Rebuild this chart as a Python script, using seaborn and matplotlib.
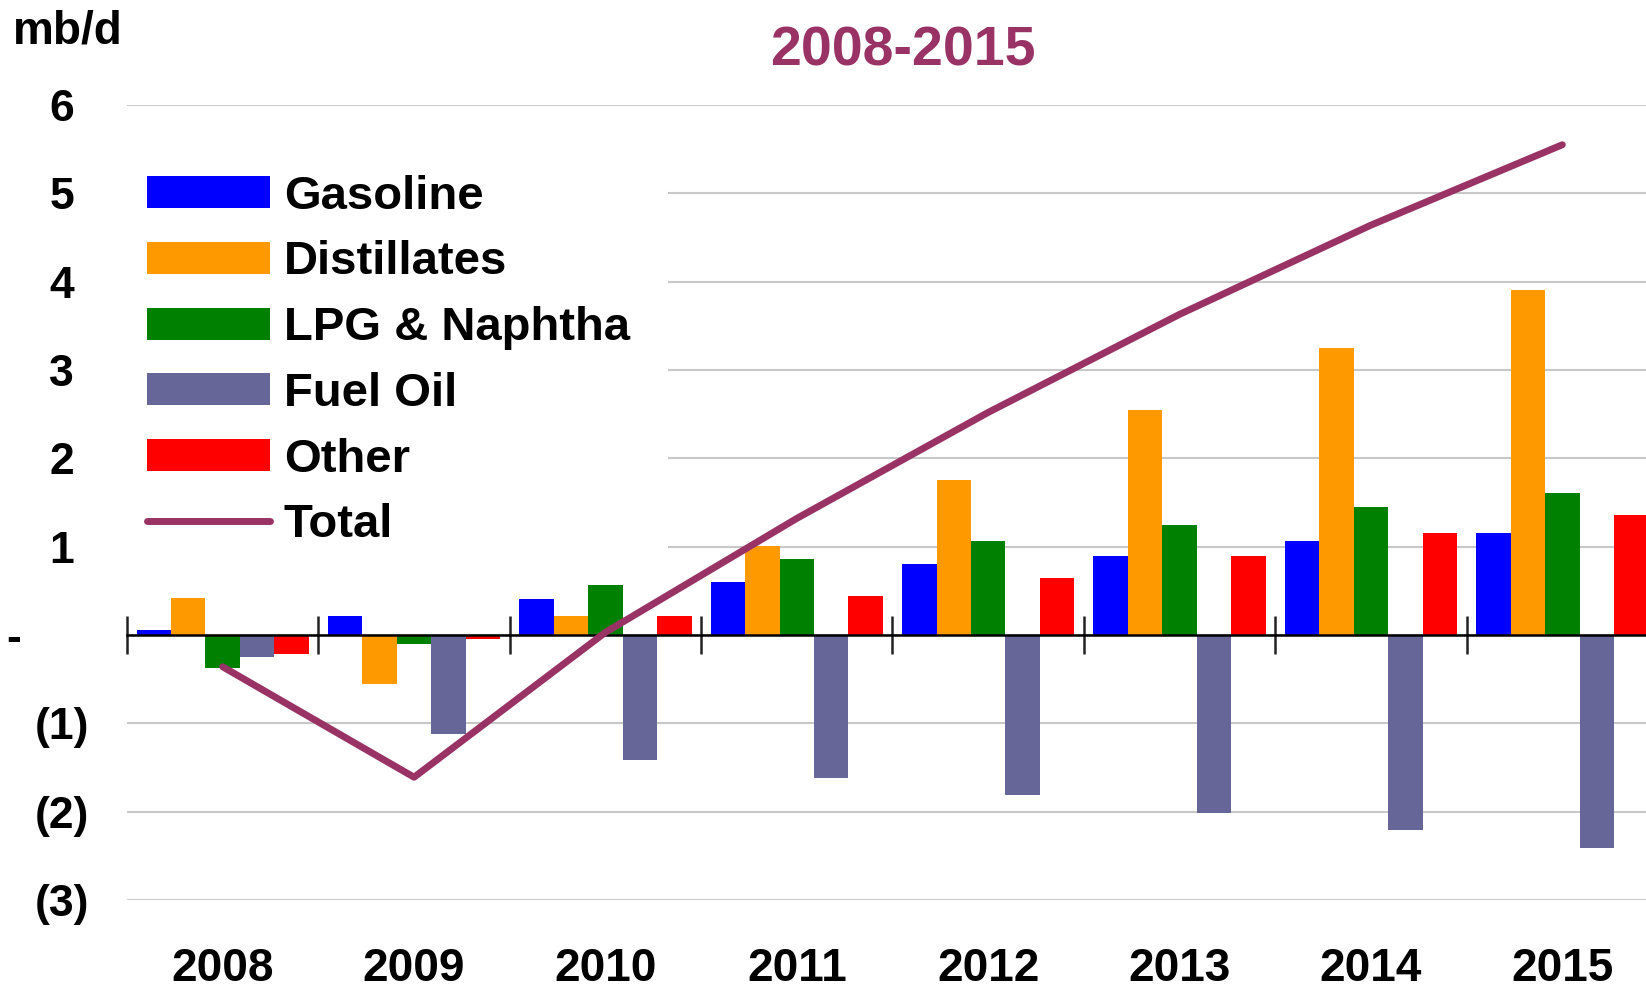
import numpy as np
import pandas as pd
import matplotlib
matplotlib.use("Agg")
import matplotlib.pyplot as plt
import seaborn as sns
from matplotlib.patches import Patch
from matplotlib.lines import Line2D

# Demand growth by product, 2008-2015 (mb/d)
years = ['2008', '2009', '2010', '2011', '2012', '2013', '2014', '2015']
products = ['Gasoline', 'Distillates', 'LPG & Naphtha', 'Fuel Oil', 'Other']
gasoline = [0.06, 0.21, 0.41, 0.60, 0.80, 0.89, 1.06, 1.16]
distillates = [0.42, -0.55, 0.21, 1.01, 1.76, 2.55, 3.25, 3.90]
lpg_naphtha = [-0.37, -0.10, 0.60, 0.86, 1.06, 1.25, 1.45, 1.61]
fuel_oil = [-0.25, -1.12, -1.41, -1.62, -1.81, -2.01, -2.21, -2.41]
other = [-0.22, -0.05, 0.21, 0.44, 0.65, 0.89, 1.15, 1.36]
total = [-0.36, -1.61, 0.03, 1.32, 2.52, 3.63, 4.64, 5.55]

ytick_vals = [-3, -2, -1, 0, 1, 2, 3, 4, 5, 6]
ytick_labels = ['(3)', '(2)', '(1)', '-', '1', '2', '3', '4', '5', '6']

colors = ['#0000FF', '#FF9900', '#008000', '#666699', '#FF0000']
total_color = '#993366'

sns.set_theme(style="white")
plt.rcParams['font.family'] = ['Liberation Sans', 'DejaVu Sans']
plt.rcParams['font.weight'] = 'bold'
plt.rcParams['text.color'] = 'black'

df = pd.concat([
    pd.DataFrame({'year': years, 'product': name, 'value': vals})
    for name, vals in zip(products, [gasoline, distillates, lpg_naphtha, fuel_oil, other])
], ignore_index=True)

W, H = 1646, 988
fig = plt.figure(figsize=(W / 100, H / 100), dpi=100)
# plot area runs slightly past the right edge, as in the original
ax_w = 1531
ax = fig.add_axes([127 / W, 88 / H, ax_w / W, (900 - 105) / H])

sns.barplot(data=df, x='year', y='value', hue='product', hue_order=products,
            order=years, palette=colors, width=0.9, saturation=1, errorbar=None,
            linewidth=0, legend=False, ax=ax)

ax.plot(np.arange(len(years)), total, color=total_color, lw=5,
        solid_capstyle='round', solid_joinstyle='round', zorder=5)

ax.set_xlim(-0.5, len(years) - 0.5)
ax.set_ylim(-3, 6)
ax.set_yticks(ytick_vals)
ax.set_yticklabels(ytick_labels)
ax.set_xlabel('')
ax.set_ylabel('')
ax.grid(axis='y', color='#c8c8c8', lw=1.5)
ax.grid(axis='x', visible=False)
ax.set_axisbelow(True)
for s in ax.spines.values():
    s.set_visible(False)

ax.tick_params(axis='y', length=0, pad=47, labelsize=32, labelcolor='black')
ax.tick_params(axis='x', length=0, pad=34, labelsize=33, labelcolor='black')
for lab in ax.get_yticklabels():
    lab.set_ha('center')
    lab.set_fontweight('bold')
    if lab.get_text() == '-':
        lab.set_x(-48 / ax_w)
for lab in ax.get_xticklabels():
    lab.set_fontweight('bold')

# zero line with category boundary ticks
secax = ax.secondary_xaxis(1 / 3)
secax.set_xticks(np.arange(-0.5, len(years), 1))
secax.tick_params(direction='inout', length=28, width=1.8, color='#222222',
                  labelbottom=False, labeltop=False)
secax.spines['bottom'].set_color('black')
secax.spines['bottom'].set_linewidth(1.8)
secax.set_zorder(3)

handles = [Patch(facecolor=c, edgecolor='none') for c in colors]
handles.append(Line2D([], [], color=total_color, lw=5, solid_capstyle='round'))
leg = ax.legend(handles, products + ['Total'], loc='upper left',
                bbox_to_anchor=(109 / W, 1 - 137 / H), bbox_transform=fig.transFigure,
                frameon=True, fancybox=False, framealpha=1, facecolor='white',
                edgecolor='none', prop={'weight': 'bold', 'size': 34},
                labelcolor='black', handlelength=2.6, handleheight=0.66,
                handletextpad=0.3, labelspacing=0.46, borderpad=0.8,
                borderaxespad=0)
leg.set_zorder(6)

fig.text(903 / W, 1 - 52 / H, '2008-2015', ha='center', va='center',
         color=total_color, fontsize=40, fontweight='bold')
fig.text(13 / W, 1 - 32 / H, 'mb/d', ha='left', va='center',
         color='black', fontsize=33, fontweight='bold')

fig.savefig('out.png', dpi=100, facecolor='white')
